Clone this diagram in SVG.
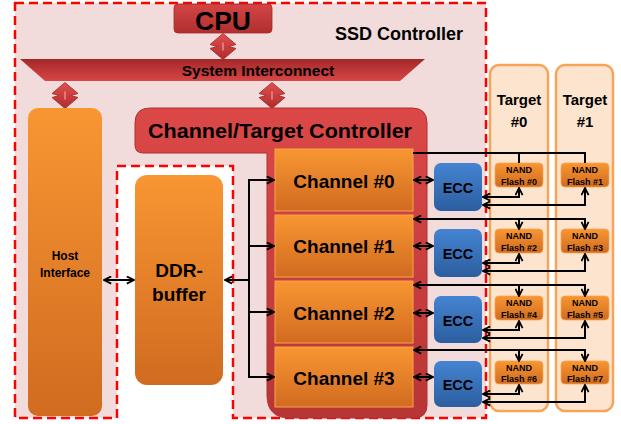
<svg xmlns="http://www.w3.org/2000/svg" width="621" height="424" viewBox="0 0 621 424">
<style>
text{font-family:"Liberation Sans",Arial,sans-serif;font-weight:bold;fill:#000;text-anchor:middle}
.con{fill:none;stroke:#000;stroke-width:2}
.orange{fill:url(#gOrange)}
.chan{fill:url(#gOrange);stroke:#f7a54c;stroke-width:1}
.ecc{fill:url(#gBlue)}
.nand{fill:url(#gOrange);stroke:#f7a54c;stroke-width:0.8}
.target{fill:#fde4cf;stroke:#f5a45a;stroke-width:2.5}
.dash{stroke:#ff0000;stroke-width:2.5;stroke-dasharray:9 5}
</style>
<defs>
<linearGradient id="gOrange" x1="0" y1="0" x2="0" y2="1"><stop offset="0" stop-color="#f99632"/><stop offset="1" stop-color="#d06b20"/></linearGradient>
<linearGradient id="gBlue" x1="0" y1="0" x2="0" y2="1"><stop offset="0" stop-color="#4584d2"/><stop offset="1" stop-color="#2b5e9f"/></linearGradient>
<linearGradient id="gRed" x1="0" y1="0" x2="0" y2="1"><stop offset="0" stop-color="#d44545"/><stop offset="1" stop-color="#b12f2f"/></linearGradient>
<linearGradient id="gBus" x1="0" y1="0" x2="0" y2="1"><stop offset="0" stop-color="#a32828"/><stop offset="1" stop-color="#d84646"/></linearGradient>
<linearGradient id="gCtl" x1="0" y1="0" x2="0" y2="1"><stop offset="0" stop-color="#dc4848"/><stop offset="1" stop-color="#b83535"/></linearGradient>
<linearGradient id="gDia" x1="0" y1="0" x2="0" y2="1"><stop offset="0" stop-color="#e05050"/><stop offset="1" stop-color="#b02c2c"/></linearGradient>
<g id="dia">
<path d="M0,-13 L13,-2 L6,0 L13,2 L0,13 L-13,2 L-6,0 L-13,-2 Z" fill="url(#gDia)" stroke="#a02828" stroke-width="0.8"/>
<line x1="0" y1="-4" x2="0" y2="4" stroke="#f08a8a" stroke-width="1.5"/>
</g>
<marker id="ah" viewBox="0 0 10 10" refX="9" refY="5" markerWidth="9" markerHeight="9" orient="auto-start-reverse" markerUnits="userSpaceOnUse">
<path d="M1,1 L9,5 L1,9" fill="none" stroke="#000" stroke-width="2"/>
</marker>
</defs>

<rect width="621" height="424" fill="#fff"/>

<g id="ssd-controller">
<path d="M15,3 H486 V418 H233 V166 H117 V418 H15 Z" fill="#f2dcdb" class="dash"/>
<text x="399" y="40" font-size="18">SSD Controller</text>
</g>

<g id="targets">
<g id="target0"><rect class="target" x="490" y="65" width="58" height="346" rx="9"/>
<text x="519" y="105" font-size="15">Target</text><text x="519" y="127" font-size="15">#0</text></g>
<g id="target1"><rect class="target" x="556" y="65" width="57" height="346" rx="9"/>
<text x="585" y="105" font-size="15">Target</text><text x="585" y="127" font-size="15">#1</text></g>
</g>

<g id="cpu">
<rect x="174" y="4" width="98" height="29" rx="4" fill="url(#gRed)" stroke="#a52a2a" stroke-width="0.8"/>
<text x="223" y="30" font-size="26.5">CPU</text>
</g>

<g id="system-interconnect">
<path d="M20,59 H425 L400,81 H45 Z" fill="url(#gBus)"/>
<text x="258" y="76" font-size="15.5">System Interconnect</text>
</g>

<g id="diamonds">
<use href="#dia" transform="translate(223,46.5)"/>
<use href="#dia" transform="translate(65,95.5)"/>
<use href="#dia" transform="translate(272,95.5)"/>
</g>

<g id="host-interface">
<rect class="orange" x="28" y="108" width="74" height="308" rx="10"/>
<text x="65" y="260" font-size="12">Host</text>
<text x="65" y="277" font-size="12">Interface</text>
</g>

<g id="ddr-buffer">
<rect class="orange" x="135" y="175" width="88" height="210" rx="12"/>
<text x="179" y="277" font-size="19">DDR-</text>
<text x="179" y="301" font-size="19">buffer</text>
</g>

<g id="channel-target-controller">
<path d="M150,108 H412 Q427,108 427,123 V405 Q427,418 414,418 H290 Q267,418 267,395 V153 H143 Q135,153 135,145 V123 Q135,108 150,108 Z" fill="url(#gCtl)" stroke="#b03030" stroke-width="1"/>
<text x="280" y="138" font-size="21" textLength="264" lengthAdjust="spacingAndGlyphs">Channel/Target Controller</text>
</g>

<g id="channel0"><rect class="chan" x="275" y="149" width="138" height="62"/><text x="344" y="188" font-size="19">Channel #0</text></g>
<g id="channel1"><rect class="chan" x="275" y="215" width="138" height="62"/><text x="344" y="253" font-size="19">Channel #1</text></g>
<g id="channel2"><rect class="chan" x="275" y="281" width="138" height="62"/><text x="344" y="320" font-size="19">Channel #2</text></g>
<g id="channel3"><rect class="chan" x="275" y="347" width="138" height="60"/><text x="344" y="385" font-size="19">Channel #3</text></g>

<g id="ecc0"><rect class="ecc" x="434" y="163" width="48" height="48" rx="7"/><text x="458" y="193" font-size="14.5">ECC</text></g>
<g id="ecc1"><rect class="ecc" x="434" y="229" width="48" height="48" rx="7"/><text x="458" y="259" font-size="14.5">ECC</text></g>
<g id="ecc2"><rect class="ecc" x="434" y="296" width="48" height="47" rx="7"/><text x="458" y="326" font-size="14.5">ECC</text></g>
<g id="ecc3"><rect class="ecc" x="434" y="361" width="48" height="46" rx="7"/><text x="458" y="390" font-size="14.5">ECC</text></g>

<g id="nand0"><rect class="nand" x="495" y="163" width="48" height="24" rx="4"/><text x="519" y="173" font-size="9">NAND</text><text x="519" y="185" font-size="9">Flash #0</text></g>
<g id="nand1"><rect class="nand" x="561" y="163" width="48" height="24" rx="4"/><text x="585" y="173" font-size="9">NAND</text><text x="585" y="185" font-size="9">Flash #1</text></g>
<g id="nand2"><rect class="nand" x="495" y="229" width="48" height="24" rx="4"/><text x="519" y="239" font-size="9">NAND</text><text x="519" y="251" font-size="9">Flash #2</text></g>
<g id="nand3"><rect class="nand" x="561" y="229" width="48" height="24" rx="4"/><text x="585" y="239" font-size="9">NAND</text><text x="585" y="251" font-size="9">Flash #3</text></g>
<g id="nand4"><rect class="nand" x="495" y="296" width="48" height="24" rx="4"/><text x="519" y="306" font-size="9">NAND</text><text x="519" y="318" font-size="9">Flash #4</text></g>
<g id="nand5"><rect class="nand" x="561" y="296" width="48" height="24" rx="4"/><text x="585" y="306" font-size="9">NAND</text><text x="585" y="318" font-size="9">Flash #5</text></g>
<g id="nand6"><rect class="nand" x="495" y="361" width="48" height="23" rx="4"/><text x="519" y="371" font-size="9">NAND</text><text x="519" y="382" font-size="9">Flash #6</text></g>
<g id="nand7"><rect class="nand" x="561" y="361" width="48" height="23" rx="4"/><text x="585" y="371" font-size="9">NAND</text><text x="585" y="382" font-size="9">Flash #7</text></g>

<g id="connectors">
<path class="con" d="M104,280 H134" marker-start="url(#ah)" marker-end="url(#ah)"/>
<path class="con" d="M249,280 H225" marker-end="url(#ah)"/>
<path class="con" d="M249,180 V377"/>
<path class="con" d="M248,180 H274" marker-end="url(#ah)"/>
<path class="con" d="M248,246 H274" marker-end="url(#ah)"/>
<path class="con" d="M248,312 H274" marker-end="url(#ah)"/>
<path class="con" d="M248,377 H274" marker-end="url(#ah)"/>
<path class="con" d="M414,180 H433" marker-start="url(#ah)" marker-end="url(#ah)"/>
<path class="con" d="M414,246 H433" marker-start="url(#ah)" marker-end="url(#ah)"/>
<path class="con" d="M414,313 H433" marker-start="url(#ah)" marker-end="url(#ah)"/>
<path class="con" d="M414,377 H433" marker-start="url(#ah)" marker-end="url(#ah)"/>
<path class="con" d="M413,153 H585 V163 M519,153 V163"/>
<path class="con" d="M585,219 H414" marker-end="url(#ah)"/>
<path class="con" d="M519,218 V229" marker-end="url(#ah)"/>
<path class="con" d="M585,218 V229" marker-end="url(#ah)"/>
<path class="con" d="M585,285 H414" marker-end="url(#ah)"/>
<path class="con" d="M519,284 V296" marker-end="url(#ah)"/>
<path class="con" d="M585,284 V296" marker-end="url(#ah)"/>
<path class="con" d="M585,350 H414" marker-end="url(#ah)"/>
<path class="con" d="M519,349 V361" marker-end="url(#ah)"/>
<path class="con" d="M585,349 V361" marker-end="url(#ah)"/>
<path class="con" d="M483,197 H519 V188" marker-start="url(#ah)" marker-end="url(#ah)"/>
<path class="con" d="M483,205 H585 V188" marker-start="url(#ah)" marker-end="url(#ah)"/>
<path class="con" d="M483,263 H519 V254" marker-start="url(#ah)" marker-end="url(#ah)"/>
<path class="con" d="M483,271 H585 V254" marker-start="url(#ah)" marker-end="url(#ah)"/>
<path class="con" d="M483,330 H519 V321" marker-start="url(#ah)" marker-end="url(#ah)"/>
<path class="con" d="M483,338 H585 V321" marker-start="url(#ah)" marker-end="url(#ah)"/>
<path class="con" d="M483,394 H519 V385" marker-start="url(#ah)" marker-end="url(#ah)"/>
<path class="con" d="M483,402 H585 V385" marker-start="url(#ah)" marker-end="url(#ah)"/>
</g>
</svg>
